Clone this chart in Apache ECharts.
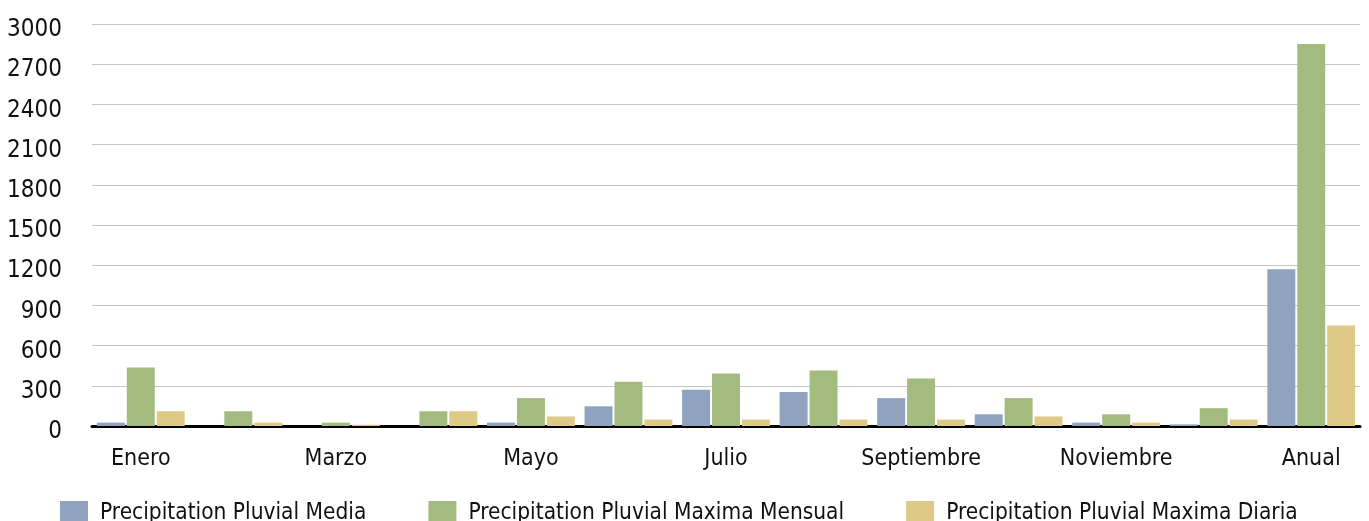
<!DOCTYPE html>
<html>
<head>
<meta charset="utf-8">
<script src="https://cdn.jsdelivr.net/npm/echarts@6/dist/echarts.min.js"></script>
<style>
  html, body { margin: 0; padding: 0; background: #ffffff; }
  #chart { width: 1369px; height: 521px; }
</style>
</head>
<body>
<div id="chart"></div>
<script>
// Monthly rainfall (mm)
const months = ['Enero', 'Febrero', 'Marzo', 'Abril', 'Mayo', 'Junio', 'Julio',
  'Agosto', 'Septiembre', 'Octubre', 'Noviembre', 'Diciembre', 'Anual'];
const seriesNames = ['Precipitation Pluvial Media', 'Precipitation Pluvial Maxima Mensual',
  'Precipitation Pluvial Maxima Diaria'];
const media = [25, 0, 0, 0, 25, 147, 270, 254, 208, 87, 25, 12, 1170];
const maximaMensual = [437, 110, 25, 110, 208, 331, 392, 415, 354, 208, 87, 133, 2850];
const maximaDiaria = [110, 25, 10, 110, 71, 48, 48, 48, 48, 71, 25, 48, 750];
const yTicks = { min: 0, max: 3000, interval: 300 };

const FONT = "'Liberation Sans Narrow', 'DejaVu Sans Condensed', 'Roboto Condensed', 'Liberation Sans', sans-serif";
const colors = ['#8FA3BE', '#A3BB7E', '#DEC986'];

const chart = echarts.init(document.getElementById('chart'));
chart.setOption({
  animation: false,
  color: colors,
  textStyle: { fontFamily: FONT },
  grid: { left: 92, right: 9, top: 24, bottom: 95, containLabel: false },
  legend: {
    bottom: -4,
    left: 60,
    padding: 0,
    itemWidth: 28,
    itemHeight: 24,
    itemGap: 62,
    icon: 'rect',
    textStyle: { fontFamily: FONT, fontSize: 22.5, color: '#111', padding: [0, 0, 0, 7] },
    data: seriesNames
  },
  xAxis: {
    type: 'category',
    data: months,
    axisLine: { lineStyle: { color: '#000', width: 3 } },
    axisTick: { show: false },
    axisLabel: { interval: 1, fontFamily: FONT, fontSize: 23, color: '#111', margin: 22 }
  },
  yAxis: {
    type: 'value',
    min: yTicks.min,
    max: yTicks.max,
    interval: yTicks.interval,
    axisLine: { show: false },
    axisTick: { show: false },
    axisLabel: {
      margin: 30,
      formatter: (v) => '{n|' + v + '}',
      rich: {
        n: { fontFamily: FONT, fontSize: 24, color: '#111', padding: [12, 0, 0, 0] }
      }
    },
    splitLine: { lineStyle: { color: '#c4c4c4', width: 1 } }
  },
  series: [
    { name: seriesNames[0], type: 'bar', data: media, barGap: '7%', barCategoryGap: '10%' },
    { name: seriesNames[1], type: 'bar', data: maximaMensual },
    { name: seriesNames[2], type: 'bar', data: maximaDiaria }
  ]
});
</script>
</body>
</html>
